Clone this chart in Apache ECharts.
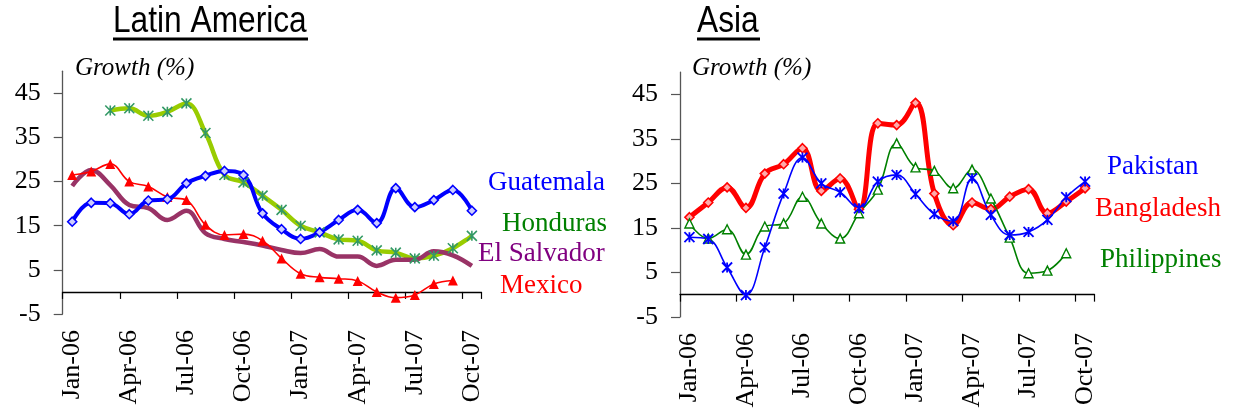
<!DOCTYPE html>
<html><head><meta charset="utf-8">
<script src="https://cdn.jsdelivr.net/npm/echarts@6/dist/echarts.min.js"></script>
<style>html,body{margin:0;padding:0;background:#fff}#c{width:1236px;height:414px}</style>
</head><body><div id="c"></div>
<script>
const months = ['Jan-06','Feb-06','Mar-06','Apr-06','May-06','Jun-06','Jul-06','Aug-06','Sep-06','Oct-06','Nov-06','Dec-06',
                'Jan-07','Feb-07','Mar-07','Apr-07','May-07','Jun-07','Jul-07','Aug-07','Sep-07','Oct-07'];
const yTicks = [-5, 5, 15, 25, 35, 45];

// Latin America
const guatemala  = [15.9,20.2,20.1,17.6,20.7,21.0,24.6,26.3,27.4,26.5,17.8,14.2,12.0,13.5,16.3,18.6,15.6,23.5,19.2,20.8,23.1,18.4];
const honduras   = [null,null,41.1,41.6,39.9,40.8,42.7,36.0,26.5,24.8,21.8,18.6,15.0,13.5,11.9,11.6,9.4,8.9,7.6,8.2,9.9,12.7];
const elSalvador = [24.0,27.6,24.2,19.7,19.0,16.3,18.4,13.3,12.0,11.3,10.5,9.5,8.8,9.7,8.0,8.0,5.9,7.3,7.3,9.2,8.3,5.9];
const mexico     = [26.5,27.3,29.0,25.0,23.9,21.5,20.8,15.2,12.9,13.1,11.6,7.6,4.1,3.3,3.0,2.5,0.0,-1.3,-0.7,1.8,2.6,null];

// Asia
const bangladesh  = [17.4,20.7,24.1,19.5,27.2,29.3,32.9,23.3,26.1,19.2,38.5,38.1,43.1,22.7,15.6,20.7,19.2,22.0,23.7,18.3,20.9,23.9];
const pakistan    = [12.9,12.5,6.1,-0.1,10.6,22.7,30.8,25.0,23.0,19.4,25.4,26.9,22.6,18.1,16.5,26.1,17.9,13.4,14.1,16.8,21.9,25.4];
const philippines = [16.0,12.6,14.7,9.0,15.3,16.0,22.0,16.0,12.6,18.3,23.6,34.0,28.6,27.8,23.9,28.1,21.6,12.8,4.8,5.4,9.3,null];

const SERIF = '"Liberation Serif", "Times New Roman", serif';
const SANS = '"Liberation Sans", Arial, sans-serif';
const ASTER = 'path://M0,0L10,10M10,0L0,10M5,0L5,10';

function xAxis(gi){
  return {
    type:'category', gridIndex:gi, data:months, boundaryGap:true,
    axisLine:{onZero:true, lineStyle:{color:'#000', width:1.3}},
    axisTick:{show:true, interval:2, length:7, lineStyle:{color:'#000', width:1.2}},
    axisLabel:{interval:2, rotate:90, margin:16, fontFamily:SERIF, fontSize:26, color:'#000'},
    splitLine:{show:false}
  };
}
function yAxis(gi){
  return {
    type:'value', gridIndex:gi, min:-5, max:50, interval:10,
    axisLine:{show:true, lineStyle:{color:'#555', width:1.3}},
    axisTick:{show:true, length:9, customValues:yTicks, lineStyle:{color:'#555', width:1.2}},
    axisLabel:{customValues:yTicks, margin:22, fontFamily:SERIF, fontSize:26, color:'#000'},
    splitLine:{show:false}
  };
}
function line(name, gi, data, color, width, symbol, size, fill, border, bw){
  return {
    name, type:'line', xAxisIndex:gi, yAxisIndex:gi, data, smooth:0.4,
    connectNulls:false,
    lineStyle:{color, width},
    showSymbol: symbol !== 'none', symbol, symbolSize:size,
    itemStyle:{color:fill, borderColor:border, borderWidth:bw},
    emphasis:{disabled:true}, animation:false
  };
}

const chart = echarts.init(document.getElementById('c'), null, {renderer:'canvas'});

function label(text, x, y, color, size){
  return {type:'text', x, y, style:{text, fill:color, font:size+'px '+SERIF, textAlign:'left', textVerticalAlign:'middle'}};
}

chart.setOption({
  animation:false,
  grid:[
    {left:62.7, top:71.2, width:418.7, height:242.8},
    {left:680, top:72.1, width:414.5, height:244.8}
  ],
  xAxis:[xAxis(0), xAxis(1)],
  yAxis:[yAxis(0), yAxis(1)],
  series:[
    line('Honduras',0,honduras,'#99cc00',4.5,ASTER,10,'rgba(0,0,0,0)','#339966',1.6),
    line('El Salvador',0,elSalvador,'#993366',4.5,'none',0,'#993366','#993366',0),
    line('Mexico',0,mexico,'#ff0000',1.6,'triangle',10,'#ff0000','#ff0000',0),
    line('Guatemala',0,guatemala,'#0000ff',4,'diamond',9,'#ccccff','#0000ff',1.6),
    line('Bangladesh',1,bangladesh,'#ff0000',5,'diamond',9,'#ffaaaa','#ff0000',1.6),
    line('Philippines',1,philippines,'#008000',1.6,'triangle',9,'#ffffff','#008000',1.4),
    line('Pakistan',1,pakistan,'#0000ff',1.6,ASTER,10,'rgba(0,0,0,0)','#0000ff',1.8)
  ],
  graphic:[
    {type:'text', x:113, y:22, scaleX:0.88, style:{text:'Latin America', fill:'#000', font:'36px '+SANS, textAlign:'left', textVerticalAlign:'middle'}},
    {type:'rect', shape:{x:113, y:37.5, width:195, height:3}, style:{fill:'#000'}},
    {type:'text', x:697, y:22, scaleX:0.88, style:{text:'Asia', fill:'#000', font:'36px '+SANS, textAlign:'left', textVerticalAlign:'middle'}},
    {type:'rect', shape:{x:697, y:37.5, width:63, height:3}, style:{fill:'#000'}},
    {type:'text', x:75, y:68, style:{text:'Growth (%)', fill:'#000', font:'italic 25px '+SERIF, textAlign:'left', textVerticalAlign:'middle'}},
    {type:'text', x:692, y:68, style:{text:'Growth (%)', fill:'#000', font:'italic 25px '+SERIF, textAlign:'left', textVerticalAlign:'middle'}},
    label('Guatemala', 488, 183, '#0000ff', 27),
    label('Honduras', 502, 224, '#008000', 27),
    label('El Salvador', 478, 254, '#800080', 27),
    label('Mexico', 500, 286, '#ff0000', 27),
    label('Pakistan', 1107, 167, '#0000ff', 27),
    label('Bangladesh', 1095, 209, '#ff0000', 27),
    label('Philippines', 1100, 260, '#008000', 27)
  ]
});
</script></body></html>
